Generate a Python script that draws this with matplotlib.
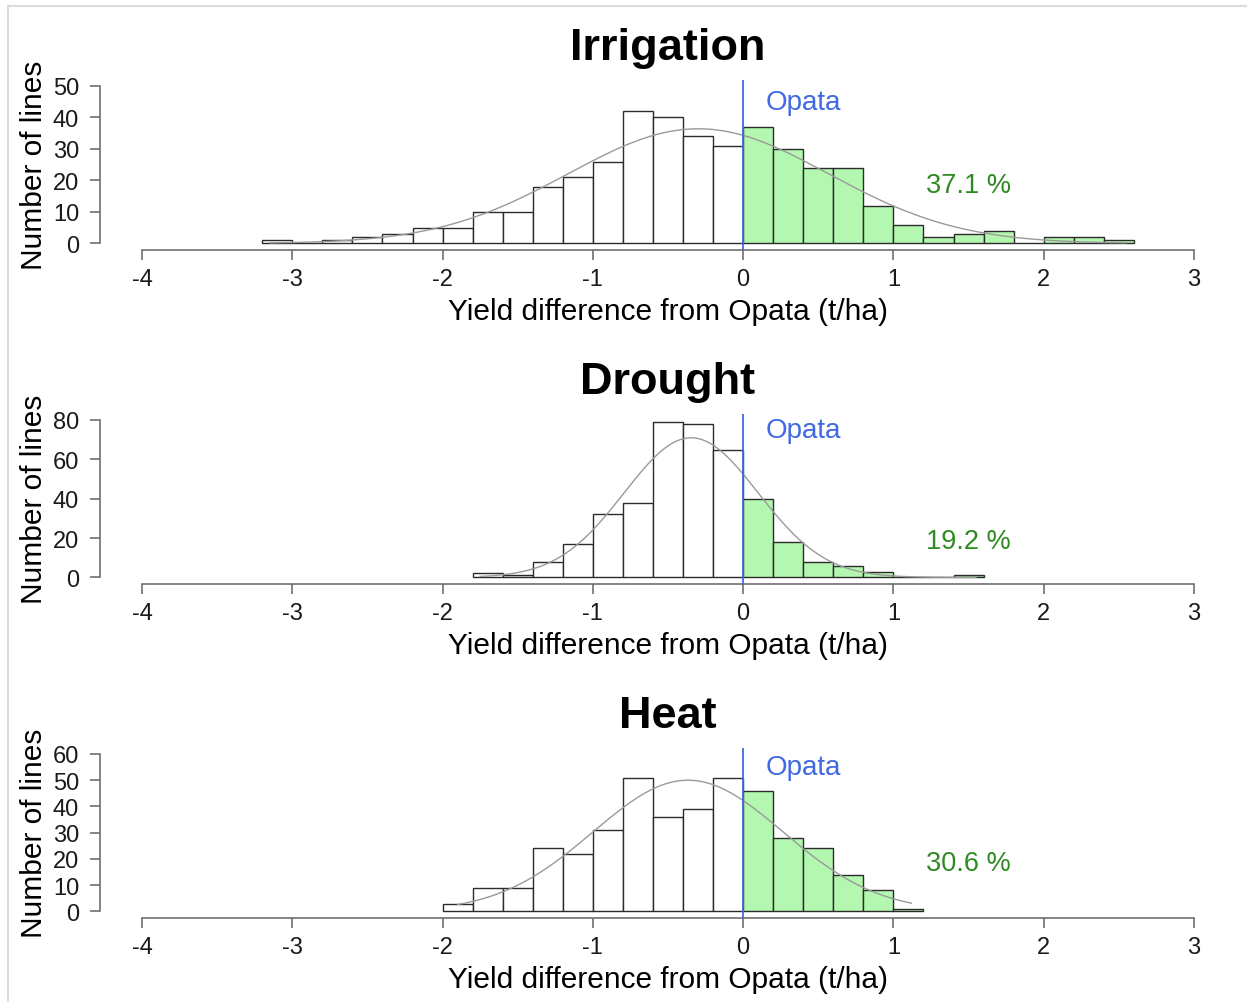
import numpy as np
import matplotlib.pyplot as plt
from matplotlib.lines import Line2D

#--------config begin--------
plt.rcParams['font.family'] = ['Liberation Sans', 'DejaVu Sans']
bar_green = "#b3f7b0"
opata_blue = "#4169e1"
pct_green = "#2e8b22"
axis_grey = "#707070"
bin_width = 0.2
#--------config end--------

# histogram counts per 0.2 t/ha bin, left edge of the first bin given separately
env_names = ["Irrigation", "Drought", "Heat"]
bin_starts = [-3.2, -1.8, -2.0]
irrigation_counts = [1, 0, 1, 2, 3, 5, 5, 10, 10, 18, 21, 26, 42, 40, 34, 31,
                     37, 30, 24, 24, 12, 6, 2, 3, 4, 0, 2, 2, 1]
drought_counts = [2, 1, 8, 17, 32, 38, 79, 78, 65,
                  40, 18, 8, 6, 3, 0, 0, 1]
heat_counts = [3, 9, 9, 24, 22, 31, 51, 36, 39, 51,
               46, 28, 24, 14, 8, 1]
# observed min / max yield difference of the lines
data_min = [-3.15, -1.75, -1.9]
data_max = [2.55, 1.55, 1.12]
y_max = [50, 80, 60]
y_step = [10, 20, 10]
opata_label_y = [45, 75, 55]

all_counts = [irrigation_counts, drought_counts, heat_counts]


def draw_panel(ax, name, start, counts, lo, hi, ymax, ystep, lab_y):
  counts = np.array(counts)
  edges = start + bin_width * np.arange(len(counts))
  colors = [bar_green if e >= -1e-9 else "white" for e in edges]
  ax.bar(edges, counts, width=bin_width, align="edge", color=colors,
         edgecolor="#2b2b2b", linewidth=1.0, zorder=2)

  # normal curve fitted to the binned values
  centers = edges + bin_width / 2
  n = counts.sum()
  mu = (counts * centers).sum() / n
  sd = np.sqrt((counts * (centers - mu) ** 2).sum() / (n - 1))
  xs = np.linspace(lo, hi, 300)
  dens = np.exp(-0.5 * ((xs - mu) / sd) ** 2) / (sd * np.sqrt(2 * np.pi))
  ax.plot(xs, dens * n * bin_width, color="#9a9a9a", linewidth=1.0, zorder=3)

  ax.axvline(0, color=opata_blue, linewidth=1.3, zorder=4)
  ax.text(0.15, lab_y, "Opata", color=opata_blue, fontsize=20,
          ha="left", va="center")
  # share of lines out-yielding Opata
  pct = 100.0 * counts[edges >= -1e-9].sum() / n
  ax.text(1.5, 18.5, "%.1f %%" % pct, color=pct_green, fontsize=19.5,
          ha="center", va="center")

  # R-style detached axes
  ax.set_xlim(-4 - 0.28, 3 + 0.28)
  ax.set_ylim(-0.04 * ymax, ymax * 1.04)
  ax.set_xticks(np.arange(-4, 4))
  ax.set_yticks(np.arange(0, ymax + 1, ystep))
  ax.set_xticklabels([str(v) for v in range(-4, 4)])
  for side in ("top", "right"):
    ax.spines[side].set_visible(False)
  ax.spines["bottom"].set_bounds(-4, 3)
  ax.spines["left"].set_bounds(0, ymax)
  for side in ("bottom", "left"):
    ax.spines[side].set_color(axis_grey)
    ax.spines[side].set_linewidth(1.2)
  ax.tick_params(length=7, width=1.2, color=axis_grey, labelsize=17,
                 labelcolor="#1a1a1a", pad=6)
  ax.tick_params(axis="y", pad=8)
  ax.set_title(name, fontsize=32.5, fontweight="bold", pad=15)
  ax.set_xlabel("Yield difference from Opata (t/ha)", fontsize=21.5)
  ax.set_ylabel("Number of lines", fontsize=21.5)
  ax.xaxis.set_label_coords(0.5, -0.28)
  ax.yaxis.set_label_coords(-0.046, 0.5)
  ax.xaxis.label.set_va("top")


if __name__ == "__main__":
  W, H = 1247, 1003
  fig = plt.figure(figsize=(W / 100, H / 100), dpi=100)
  tops = [80.7, 414.7, 748.7]
  for i, name in enumerate(env_names):
    ax = fig.add_axes([100 / W, 1 - (tops[i] + 170) / H, 1136 / W, 170 / H])
    draw_panel(ax, name, bin_starts[i], all_counts[i], data_min[i],
               data_max[i], y_max[i], y_step[i], opata_label_y[i])

  # thin frame along the top and left edge
  fig.add_artist(Line2D([8 / W, 1], [1 - 7 / H, 1 - 7 / H], color="#dcdcdc",
                        linewidth=1.5, transform=fig.transFigure))
  fig.add_artist(Line2D([8 / W, 8 / W], [0, 1 - 7 / H], color="#dcdcdc",
                        linewidth=1.5, transform=fig.transFigure))

  plt.savefig("out.png", dpi=100)
